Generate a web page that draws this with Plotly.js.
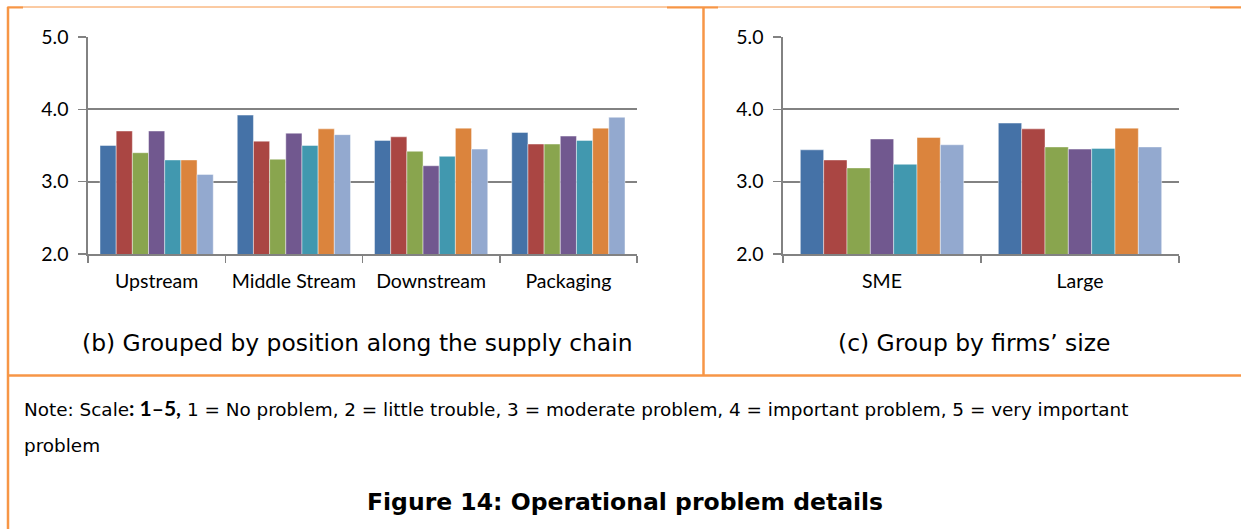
<!DOCTYPE html>
<html>
<head>
<meta charset="utf-8">
<script src="https://cdn.plot.ly/plotly-3.0.1.min.js"></script>
<style>html,body{margin:0;padding:0;background:#fff;}#chart{width:1241px;height:529px;}</style>
</head>
<body>
<div id="chart"></div>
<script>
// ---- data ----
const categoriesB = ['Upstream', 'Middle Stream', 'Downstream', 'Packaging'];
const categoriesC = ['SME', 'Large'];
const seriesNames = ['Series 1', 'Series 2', 'Series 3', 'Series 4', 'Series 5', 'Series 6', 'Series 7'];
const seriesColors = ['#4572A7', '#AA4643', '#89A54E', '#71588F', '#4198AF', '#DB843D', '#93A9CF'];

const s1B = [3.50, 3.92, 3.57, 3.68];
const s2B = [3.70, 3.56, 3.62, 3.52];
const s3B = [3.40, 3.31, 3.42, 3.52];
const s4B = [3.70, 3.67, 3.22, 3.63];
const s5B = [3.30, 3.50, 3.35, 3.57];
const s6B = [3.30, 3.73, 3.74, 3.74];
const s7B = [3.10, 3.65, 3.45, 3.89];

const s1C = [3.44, 3.81];
const s2C = [3.30, 3.73];
const s3C = [3.19, 3.48];
const s4C = [3.59, 3.45];
const s5C = [3.24, 3.46];
const s6C = [3.61, 3.74];
const s7C = [3.51, 3.48];

const yTicks = [2, 3, 4, 5];
const subtitleB = '(b) Grouped by position along the supply chain';
const subtitleC = '(c) Group by firms\u2019 size';
const noteLine1 = 'Note: Scale<span style="font-family:Lato;font-size:21px;font-weight:bold">: 1\u20135,</span> 1 = No problem, 2 = little trouble, 3 = moderate problem, 4 = important problem, 5 = very important';
const noteLine2 = 'problem';
const figTitle = '<b>Figure 14: Operational problem details</b>';

// ---- layout helpers ----
const W = 1241, H = 529;
const px = x => x / W;
const py = y => 1 - y / H;
const ORANGE = '#F79646';
const GRID = '#828282';
const textFont = 'DejaVu Sans, Verdana, sans-serif';
const axisFont = {family: 'Lato, Calibri, sans-serif', size: 19.5, color: '#000'};

const dataB = [s1B, s2B, s3B, s4B, s5B, s6B, s7B];
const dataC = [s1C, s2C, s3C, s4C, s5C, s6C, s7C];

const traces = [];
dataB.forEach((vals, i) => traces.push({
  type: 'bar', x: categoriesB, y: vals, name: seriesNames[i], xaxis: 'x', yaxis: 'y',
  marker: {color: seriesColors[i], line: {color: 'rgba(255,255,255,0.55)', width: 0.8}},
  showlegend: false, hoverinfo: 'x+y'
}));
dataC.forEach((vals, i) => traces.push({
  type: 'bar', x: categoriesC, y: vals, name: seriesNames[i], xaxis: 'x2', yaxis: 'y2',
  marker: {color: seriesColors[i], line: {color: 'rgba(255,255,255,0.55)', width: 0.8}},
  showlegend: false, hoverinfo: 'x+y'
}));

function xAx(domain, anchor) {
  return {
    domain: domain, anchor: anchor, type: 'category',
    tickson: 'boundaries', ticks: 'outside', ticklen: 7, tickwidth: 1.5, tickcolor: GRID,
    showline: true, linecolor: GRID, linewidth: 1.6, showgrid: false, zeroline: false,
    tickfont: axisFont, ticklabelstandoff: 9, fixedrange: true, automargin: false
  };
}
function yAx(anchor) {
  return {
    domain: [py(254), py(37)], anchor: anchor, range: [2, 5],
    tickmode: 'array', tickvals: yTicks, tickformat: '.1f',
    ticks: 'outside', ticklen: 8, tickwidth: 1.5, tickcolor: GRID,
    showline: true, linecolor: GRID, linewidth: 1.6,
    showgrid: true, gridcolor: GRID, gridwidth: 1.7, zeroline: false,
    tickfont: axisFont, ticklabelstandoff: 6, fixedrange: true, automargin: false
  };
}

const line = (x0, y0, x1, y1, w) => ({
  type: 'line', xref: 'paper', yref: 'paper', x0: px(x0), y0: py(y0), x1: px(x1), y1: py(y1),
  line: {color: ORANGE, width: w}, layer: 'above'
});

const layout = {
  width: W, height: H,
  margin: {l: 0, r: 0, t: 0, b: 0, pad: 0},
  paper_bgcolor: '#fff', plot_bgcolor: '#fff',
  showlegend: false,
  barmode: 'group', bargap: 0.175, bargroupgap: 0,
  xaxis: xAx([px(88), px(637)], 'y'),
  yaxis: yAx('x'),
  xaxis2: xAx([px(783), px(1179)], 'y2'),
  yaxis2: yAx('x2'),
  shapes: [
    line(8, 7, 1241, 7, 1),
    line(7, 7.5, 23, 7.5, 2),
    line(667, 7.5, 718, 7.5, 2),
    line(1210, 7.5, 1241, 7.5, 2),
    line(8, 7, 8, 529, 2.5),
    line(703.5, 7, 703.5, 375.5, 2.5),
    line(8, 375.5, 1241, 375.5, 2.5)
  ],
  annotations: [
    {xref: 'paper', yref: 'paper', x: px(357), y: py(343), xanchor: 'center', yanchor: 'middle',
     text: subtitleB, showarrow: false, font: {family: textFont, size: 23.4, color: '#000'}},
    {xref: 'paper', yref: 'paper', x: px(974), y: py(343), xanchor: 'center', yanchor: 'middle',
     text: subtitleC, showarrow: false, font: {family: textFont, size: 23.4, color: '#000'}},
    {xref: 'paper', yref: 'paper', x: px(22), y: py(407), xanchor: 'left', yanchor: 'middle',
     text: noteLine1, showarrow: false, font: {family: textFont, size: 18.4, color: '#000'}},
    {xref: 'paper', yref: 'paper', x: px(22), y: py(445), xanchor: 'left', yanchor: 'middle',
     text: noteLine2, showarrow: false, font: {family: textFont, size: 18.4, color: '#000'}},
    {xref: 'paper', yref: 'paper', x: px(625), y: py(502), xanchor: 'center', yanchor: 'middle',
     text: figTitle, showarrow: false, font: {family: textFont, size: 23.5, color: '#000'}}
  ]
};

Plotly.newPlot('chart', traces, layout, {displayModeBar: false, staticPlot: true});
</script>
</body>
</html>
